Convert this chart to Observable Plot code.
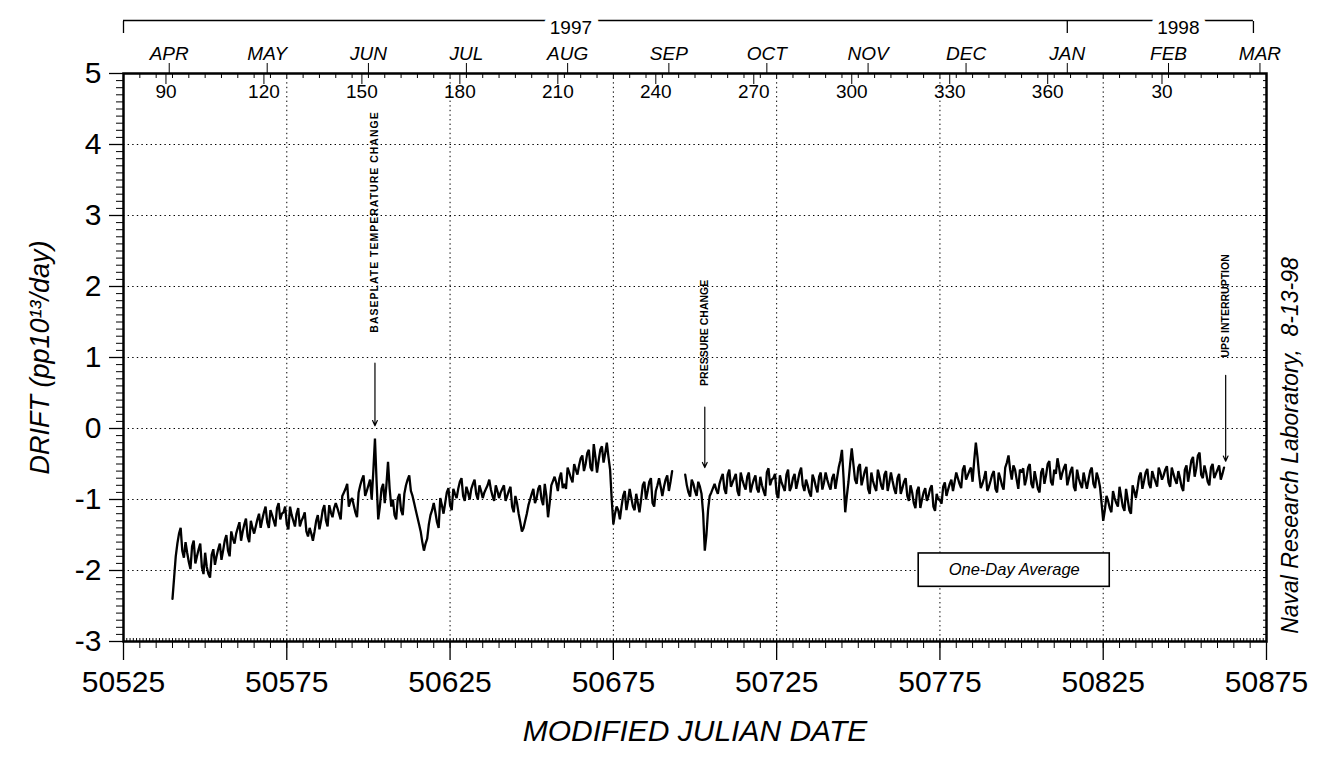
<!DOCTYPE html>
<html><head><meta charset="utf-8">
<script src="https://cdn.jsdelivr.net/npm/d3@7"></script>
<script src="https://cdn.jsdelivr.net/npm/@observablehq/plot@0.6"></script>
<style>
html,body{margin:0;padding:0;background:#fff;}
#chart svg{display:block;}
</style></head><body><div id="chart"></div>
<script>
// ---- data: readings at whole days (from MJD 50540) and at half days (from MJD 50540.5) ----
const startMJD = 50540;
const driftDay = [
 -2.40,-1.80,-1.48,-1.72,-1.60,-1.88,-1.66,-1.90,-1.70,-1.95,
 -1.75,-2.05,-1.78,-1.92,-1.70,-1.85,-1.58,-1.72,-1.45,-1.62,
 -1.40,-1.58,-1.35,-1.52,-1.30,-1.48,-1.28,-1.40,-1.18,-1.32,
 -1.15,-1.30,-1.12,-1.28,-1.18,-1.35,-1.10,-1.30,-1.20,-1.38,
 -1.25,-1.45,-1.40,-1.58,-1.30,-1.42,-1.15,-1.30,-1.08,-1.25,
 -1.05,-1.20,-0.95,-0.85,-1.10,-0.98,-1.18,-0.90,-0.72,-0.95,
 -0.80,-1.00,-0.14,-1.28,-0.85,-1.05,-0.47,-1.10,-1.22,-0.98,
 -1.15,-0.92,-0.72,-0.88,-1.05,-1.25,-1.45,-1.72,-1.55,-1.22,
 -1.05,-1.32,-0.98,-1.20,-0.90,-1.08,-0.85,-0.98,-0.75,-0.95,
 -0.82,-1.00,-0.78,-0.92,-0.80,-0.98,-0.85,-0.72,-0.95,-0.80,
 -0.98,-0.85,-1.02,-0.88,-1.10,-0.95,-1.20,-1.45,-1.30,-1.08,
 -0.92,-1.05,-0.85,-1.00,-0.78,-1.25,-0.80,-0.68,-0.88,-0.62,
 -0.78,-0.55,-0.70,-0.50,-0.65,-0.42,-0.60,-0.35,-0.55,-0.22,
 -0.62,-0.30,-0.48,-0.20,-0.58,-1.35,-1.10,-1.28,-0.95,-1.15,
 -0.85,-1.10,-0.92,-1.18,-0.80,-1.00,-0.75,-1.05,-0.88,-0.70,
 -0.95,-0.72,-0.88,-0.60, null, null, null,-0.65,-0.90,-0.72,
 -0.88,-0.75,-0.92,-1.72,-1.15,-0.90,-0.78,-0.92,-0.70,-0.85,
 -0.65,-0.82,-0.70,-0.88,-0.62,-0.80,-0.68,-0.90,-0.72,-0.85,
 -0.68,-0.88,-0.62,-0.80,-0.70,-0.92,-0.66,-0.82,-0.65,-0.88,
 -0.70,-0.85,-0.62,-0.80,-0.72,-0.90,-0.65,-0.82,-0.68,-0.86,
 -0.62,-0.80,-0.70,-0.85,-0.55,-0.30,-1.18,-0.75,-0.28,-0.72,
 -0.55,-0.80,-0.60,-0.85,-0.62,-0.82,-0.58,-0.80,-0.65,-0.88,
 -0.62,-0.85,-0.70,-0.92,-0.75,-0.95,-0.80,-1.05,-0.88,-1.12,
 -0.90,-1.02,-0.85,-1.10,-0.92,-1.00,-0.82,-0.95,-0.78,-0.88,
 -0.62,-0.78,-0.58,-0.72,-0.60,-0.75,-0.20,-0.65,-0.78,-0.60,
 -0.82,-0.65,-0.85,-0.62,-0.80,-0.55,-0.38,-0.72,-0.58,-0.85,
 -0.62,-0.80,-0.55,-0.78,-0.60,-0.85,-0.62,-0.78,-0.50,-0.75,
 -0.58,-0.42,-0.72,-0.55,-0.80,-0.60,-0.82,-0.58,-0.78,-0.62,
 -0.85,-0.60,-0.78,-0.62,-0.82,-1.30,-0.95,-1.12,-0.88,-1.05,
 -0.82,-1.10,-0.85,-1.15,-0.80,-0.98,-0.68,-0.85,-0.62,-0.78,
 -0.60,-0.75,-0.55,-0.72,-0.58,-0.76,-0.55,-0.72,-0.60,-0.82,
 -0.58,-0.75,-0.45,-0.68,-0.38,-0.65,-0.52,-0.75,-0.55,-0.70,
 -0.58,-0.72,-0.55
];
const driftHalf = [
 -2.10,-1.62,-1.40,-1.82,-1.75,-1.98,-1.58,-1.80,-1.62,-2.05,
 -1.95,-2.10,-1.70,-1.80,-1.62,-1.72,-1.50,-1.80,-1.55,-1.48,
 -1.32,-1.45,-1.27,-1.60,-1.40,-1.38,-1.20,-1.28,-1.10,-1.40,
 -1.22,-1.38,-1.05,-1.20,-1.10,-1.42,-1.22,-1.38,-1.12,-1.30,
 -1.18,-1.52,-1.48,-1.45,-1.22,-1.30,-1.08,-1.38,-1.18,-1.12,
 -1.12,-1.28,-0.90,-0.78,-1.02,-1.08,-1.25,-0.80,-0.66,-0.88,
 -0.72,-0.60,-0.75,-1.10,-0.78,-0.80,-0.85,-1.00,-1.28,-0.92,
 -1.22,-0.80,-0.66,-0.95,-1.15,-1.35,-1.60,-1.62,-1.35,-1.15,
 -1.18,-1.40,-1.08,-1.05,-0.84,-1.15,-0.92,-0.85,-0.70,-1.02,
 -0.90,-0.85,-0.72,-1.00,-0.88,-0.90,-0.80,-0.86,-1.02,-0.88,
 -0.90,-0.80,-0.95,-0.82,-1.18,-1.05,-1.32,-1.40,-1.20,-1.00,
 -0.85,-0.98,-0.80,-1.08,-0.95,-1.05,-0.74,-0.76,-0.70,-0.84,
 -0.85,-0.62,-0.76,-0.58,-0.52,-0.38,-0.50,-0.30,-0.60,-0.40,
 -0.45,-0.25,-0.35,-0.40,-1.00,-1.20,-1.15,-1.10,-0.88,-1.02,
 -0.98,-1.15,-1.05,-1.00,-0.75,-0.88,-0.70,-1.10,-0.80,-0.82,
 -0.82,-0.66,-0.75, null, null, null, null,-0.80,-0.96,-0.78,
 -0.95,-0.82,-1.20,-1.50,-0.95,-0.84,-0.86,-0.78,-0.64,-0.92,
 -0.58,-0.76,-0.64,-0.95,-0.72,-0.86,-0.62,-0.80,-0.66,-0.90,
 -0.80,-0.95,-0.56,-0.72,-0.64,-0.98,-0.76,-0.88,-0.58,-0.82,
 -0.64,-0.74,-0.55,-0.88,-0.80,-0.96,-0.72,-0.90,-0.62,-0.76,
 -0.72,-0.86,-0.64,-0.70,-0.45,-0.70,-0.95,-0.50,-0.50,-0.78,
 -0.50,-0.70,-0.54,-0.92,-0.74,-0.88,-0.68,-0.86,-0.60,-0.76,
 -0.74,-0.92,-0.64,-0.84,-0.70,-1.02,-0.90,-1.12,-0.82,-1.00,
 -0.84,-0.95,-0.80,-1.16,-1.00,-1.06,-0.76,-0.86,-0.72,-0.75,
 -0.70,-0.84,-0.52,-0.66,-0.55,-0.45,-0.40,-0.84,-0.70,-0.88,
 -0.74,-0.60,-0.90,-0.70,-0.86,-0.48,-0.58,-0.52,-0.72,-0.58,
 -0.56,-0.70,-0.50,-0.84,-0.72,-0.90,-0.56,-0.66,-0.46,-0.80,
 -0.64,-0.55,-0.62,-0.50,-0.70,-0.54,-0.88,-0.70,-0.84,-0.74,
 -0.72,-0.55,-0.84,-0.70,-1.05,-1.15,-1.02,-1.18,-0.98,-1.10,
 -0.96,-1.16,-1.00,-1.20,-0.88,-0.84,-0.62,-0.74,-0.57,-0.84,
 -0.68,-0.82,-0.62,-0.66,-0.53,-0.82,-0.64,-0.78,-0.70,-0.88,
 -0.52,-0.60,-0.40,-0.56,-0.34,-0.70,-0.62,-0.80,-0.50,-0.64,
 -0.52,-0.64
];

// ---- axes / labels ----
const xTicks = [50525,50575,50625,50675,50725,50775,50825,50875];
const xGridLines = [50575,50625,50675,50725,50775,50825];
const yTicks = [-3,-2,-1,0,1,2,3,4,5];
const yTickLabels = ["-3","-2","-1","0","1","2","3","4","5"];
const yGridLines = [-2,-1,0,1,2,3,4];
const doyLabels = ["90","120","150","180","210","240","270","300","330","360","30"];
const doyMJD = [50538,50568,50598,50628,50658,50688,50718,50748,50778,50808,50843];
const monthLabels = ["APR","MAY","JUN","JUL","AUG","SEP","OCT","NOV","DEC","JAN","FEB","MAR"];
const monthMJD = [50539,50569,50600,50630,50661,50692,50722,50753,50783,50814,50845,50873];
const yearLabels = ["1997","1998"];
const yearLabelMJD = [50662,50848];
const yearSpan = [50525,50871];
const yearMarks = [50525,50814,50871];

// ---- annotations ----
const annoText = ["BASEPLATE TEMPERATURE CHANGE","PRESSURE CHANGE","UPS INTERRUPTION"];
const annoMJD = [50602,50703,50862.5];
const annoTextY = [1.35,0.60,1.00];
const annoArrowTop = [0.92,0.30,0.75];
const annoArrowTip = [0.04,-0.55,-0.46];
const legendLabel = "One-Day Average";
const legendX = [50768.5,50827];
const legendY = [-1.76,-2.23];
const sideNote = "Naval Research Laboratory,  8-13-98";
const xTitle = "MODIFIED JULIAN DATE";
const yTitle = "DRIFT (pp10¹³/day)";

const series = driftDay.map((v,i)=>({mjd:startMJD+i, v}))
  .concat(driftHalf.map((v,i)=>({mjd:startMJD+i+0.5, v})))
  .sort((a,b)=>a.mjd-b.mjd);
const annos = annoText.map((t,i)=>({t, x:annoMJD[i], ty:annoTextY[i], y1:annoArrowTop[i], y2:annoArrowTip[i]}));
const doys = doyLabels.map((d,i)=>({d, x:doyMJD[i]}));
const years = yearLabels.map((y,i)=>({y, x:yearLabelMJD[i]}));
const minor5 = d3.range(50525, 50876, 5);
const minor1 = d3.range(50525, 50876, 1);
const yMinor = d3.range(-30, 51, 1).map(d=>d/10);
const font = "Arial, 'Liberation Sans', Helvetica, sans-serif";

const chart = Plot.plot({
  width:1321, height:758,
  marginLeft:123, marginRight:55, marginTop:73, marginBottom:117,
  x:{domain:[50525,50875]},
  y:{domain:[-3,5]},
  style:{fontFamily:font, color:"#000", background:"#fff", overflow:"visible"},
  marks:[
    Plot.gridY(yGridLines,{stroke:"#000", strokeOpacity:1, strokeWidth:1, strokeDasharray:"1.4,3.2"}),
    Plot.gridX(xGridLines,{stroke:"#000", strokeOpacity:1, strokeWidth:1, strokeDasharray:"1.4,3.2"}),
    Plot.rect([{x1:legendX[0],x2:legendX[1],y1:legendY[0],y2:legendY[1]}],{x1:"x1",x2:"x2",y1:"y1",y2:"y2",fill:"#fff",stroke:"#000",strokeWidth:1.6}),
    Plot.text([legendLabel],{x:(legendX[0]+legendX[1])/2, y:(legendY[0]+legendY[1])/2, text:d=>d, fontSize:16.5, fontStyle:"italic", fill:"#000"}),
    Plot.lineY(series,{x:"mjd", y:"v", stroke:"#000", strokeWidth:2.3, strokeLinejoin:"miter"}),
    Plot.arrow(annos,{x1:"x", x2:"x", y1:"y1", y2:"y2", stroke:"#000", strokeWidth:1.2, headLength:7, headAngle:50}),
    Plot.text(annos,{x:"x", y:"ty", text:"t", rotate:-90, textAnchor:"start", fontSize:10.5, fontWeight:"bold", fill:"#000"}),
    Plot.frame({stroke:"#000", strokeWidth:2.5}),
    // bottom axis
    Plot.axisX({anchor:"bottom", ticks:xTicks, tickSize:19, tickPadding:10, fontSize:30, tickFormat:"d", label:null, strokeWidth:1.3}),
    Plot.axisX({anchor:"bottom", ticks:minor5, tickSize:7, tickFormat:()=>"", label:null}),
    Plot.axisX({anchor:"bottom", ticks:minor1, tickSize:-3, tickFormat:()=>"", label:null}),
    // top axes (day-of-year inside, months outside)
    Plot.axisX({anchor:"top", ticks:doyMJD, tickSize:-10, tickFormat:()=>"", label:null}),
    Plot.axisX({anchor:"top", ticks:minor5, tickSize:-4, tickFormat:()=>"", label:null}),
    Plot.axisX({anchor:"top", ticks:monthMJD, tickSize:11, tickPadding:3, fontSize:19, fontStyle:"italic", tickFormat:(d,i)=>monthLabels[i], label:null}),
    Plot.text(doys,{x:"x", text:"d", frameAnchor:"top", lineAnchor:"top", dy:11, fontSize:19, fill:"#000"}),
    // year bracket
    Plot.ruleY([{y:5, x1:yearSpan[0], x2:yearSpan[1]}],{y:"y", x1:"x1", x2:"x2", dy:-53, stroke:"#000", strokeWidth:1.3}),
    Plot.axisX({anchor:"top", ticks:yearMarks, tickSize:-12, dy:-53, tickFormat:()=>"", label:null, strokeWidth:1.3}),
    Plot.text(years,{x:"x", text:"y", frameAnchor:"top", dy:-53, fontSize:19, fill:"#000", stroke:"#fff", strokeWidth:14}),
    // left axis
    Plot.axisY({anchor:"left", ticks:yTicks, tickSize:14, tickPadding:8, fontSize:30, tickFormat:(d,i)=>yTickLabels[i], label:null, strokeWidth:1.3}),
    Plot.axisY({anchor:"left", ticks:yMinor, tickSize:7, tickFormat:()=>"", label:null}),
    Plot.axisY({anchor:"right", ticks:yMinor, tickSize:-4, tickFormat:()=>"", label:null}),
    // titles
    Plot.text([yTitle],{frameAnchor:"left", dx:-83, rotate:-90, textAnchor:"middle", text:d=>d, fontSize:27, fontStyle:"italic", fill:"#000"}),
    Plot.text([xTitle],{frameAnchor:"bottom", dy:99, text:d=>d, fontSize:30, fontStyle:"italic", fill:"#000"}),
    Plot.text([sideNote],{frameAnchor:"right", dx:24, dy:88, rotate:-90, textAnchor:"middle", text:d=>d, fontSize:23, fontStyle:"italic", fill:"#000"})
  ]
});
// widen the letter spacing of the long annotation, as in the original print
d3.select(chart).selectAll("text")
  .filter(function(){ return this.textContent === annoText[0]; })
  .style("letter-spacing", "1px");
document.getElementById("chart").appendChild(chart);
</script></body></html>
